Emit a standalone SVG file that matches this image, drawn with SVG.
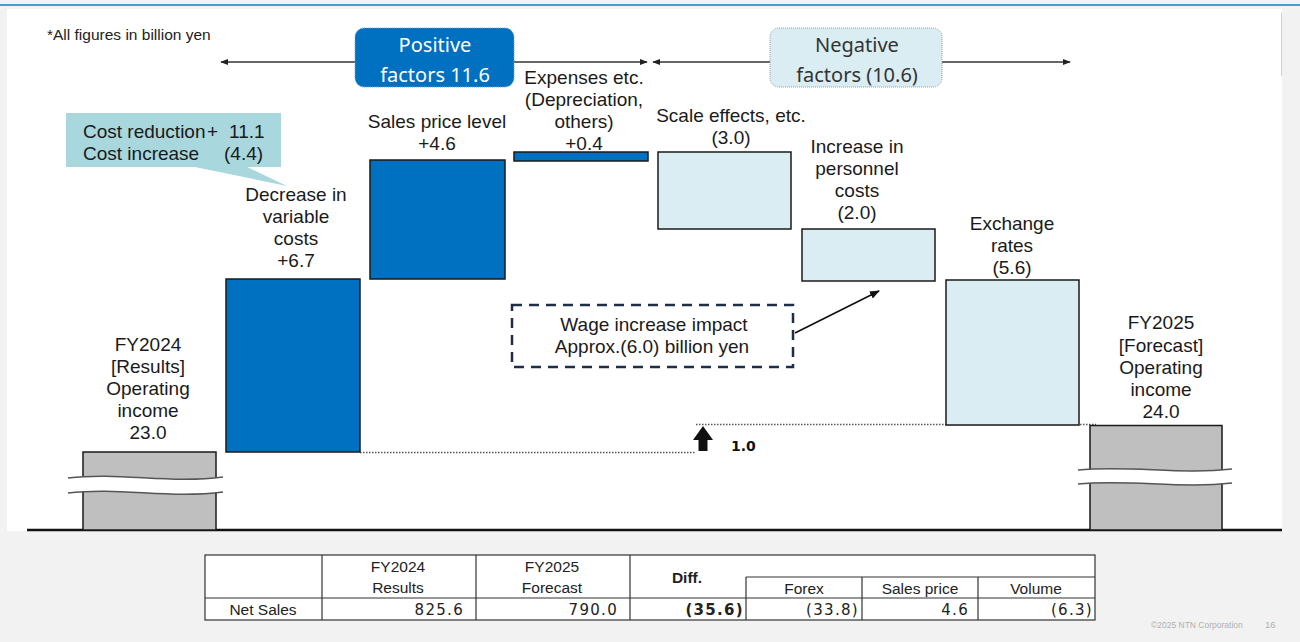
<svg xmlns="http://www.w3.org/2000/svg" width="1300" height="642" viewBox="0 0 1300 642">
<defs>
<style>
.lbl{font-family:"Liberation Sans",Arial,sans-serif;font-size:19px;fill:#1a1a1a;text-anchor:middle}
.box{font-family:"Noto Sans","DejaVu Sans",sans-serif;font-size:20px;text-anchor:middle}
.th{font-family:"Liberation Sans",Arial,sans-serif;font-size:15.5px;fill:#222;text-anchor:middle}
.num{font-family:"DejaVu Sans",sans-serif;font-size:15px;fill:#222;text-anchor:end;letter-spacing:1.3px}
.pos{fill:#0070c0;stroke:#1a1a1a;stroke-width:1.5}
.neg{fill:#daedf3;stroke:#1a1a1a;stroke-width:1.5}
.base{fill:#bfbfbf;stroke:#1a1a1a;stroke-width:1.5}
.dot{stroke:#555;stroke-width:1.3;stroke-dasharray:1.5 1.5;fill:none}
.cell{fill:none;stroke:#333;stroke-width:1.2}
.brk{fill:#ffffff;stroke:none}
.brkl{fill:none;stroke:#555;stroke-width:1.5}
</style>
<marker id="ah" viewBox="0 0 10 10" refX="9" refY="5" markerWidth="8" markerHeight="8" orient="auto-start-reverse" markerUnits="userSpaceOnUse">
<path d="M0,1 L10,5 L0,9 z" fill="#222"/>
</marker>
<marker id="ah2" viewBox="0 0 10 10" refX="9" refY="5" markerWidth="10" markerHeight="10" orient="auto" markerUnits="userSpaceOnUse">
<path d="M0,1 L10,5 L0,9 z" fill="#111"/>
</marker>
</defs>

<rect x="0" y="0" width="1300" height="642" fill="#f2f2f2"/>
<rect x="7" y="9" width="1275" height="522" fill="#ffffff"/>
<line x1="0" y1="5" x2="1300" y2="5" stroke="#3f9fdb" stroke-width="2.2"/>
<line x1="1281.5" y1="13" x2="1281.5" y2="76" stroke="#d0d0d0" stroke-width="1"/>
<line x1="27" y1="530" x2="1282" y2="530" stroke="#111" stroke-width="2.5"/>

<text x="47" y="40" font-family="Liberation Sans,Arial,sans-serif" font-size="15.5px" fill="#222">*All figures in billion yen</text>

<g id="connectors">
<line x1="221" y1="62" x2="647" y2="62" stroke="#333" stroke-width="1.5" marker-start="url(#ah)" marker-end="url(#ah)"/>
<line x1="653" y1="62" x2="1070" y2="62" stroke="#333" stroke-width="1.5" marker-start="url(#ah)" marker-end="url(#ah)"/>
<line class="dot" x1="360" y1="452.5" x2="695" y2="452.5"/>
<line class="dot" x1="696" y1="424.5" x2="1096" y2="424.5"/>
<line x1="795" y1="333" x2="879" y2="291" stroke="#111" stroke-width="1.8" marker-end="url(#ah2)"/>
<polygon points="703,426 713,440 707.5,440 707.5,451 698.5,451 698.5,440 693,440" fill="#111"/>
</g>

<g id="positive-factors">
<rect x="355" y="28" width="159" height="59" rx="9" fill="#0070c0" stroke="#6fa6d6" stroke-width="1" stroke-dasharray="1 1"/>
<text class="box" x="435" y="52" fill="#ffffff">Positive</text>
<text class="box" x="435" y="82" fill="#ffffff">factors 11.6</text>
</g>

<g id="negative-factors">
<rect x="770" y="28" width="172" height="59" rx="9" fill="#daedf3" stroke="#9a9a9a" stroke-width="1" stroke-dasharray="1 1"/>
<text class="box" x="857" y="52" fill="#333">Negative</text>
<text class="box" x="857" y="82" fill="#333">factors (10.6)</text>
</g>

<g id="callout">
<polygon points="190,166 245,166 287,186" fill="#a8d7dd"/>
<rect x="66" y="113" width="215" height="54" fill="#a8d7dd"/>
<text font-family="Liberation Sans,Arial,sans-serif" font-size="19px" fill="#1a1a1a"><tspan x="83" y="138">Cost reduction</tspan><tspan x="207" y="138">+</tspan><tspan x="229" y="138">11.1</tspan></text>
<text font-family="Liberation Sans,Arial,sans-serif" font-size="19px" fill="#1a1a1a"><tspan x="83" y="160">Cost increase</tspan><tspan x="224" y="160">(4.4)</tspan></text>
</g>

<g id="fy2024">
<rect class="base" x="83" y="452" width="133" height="78"/>
<path class="brk" d="M68,478 C120,472 170,484 223,477 L223,492 C170,499 120,487 68,493 Z"/>
<path class="brkl" d="M68,478 C120,472 170,484 223,477"/>
<path class="brkl" d="M68,493 C120,487 170,499 223,492"/>
<text class="lbl" x="148" y="351">FY2024</text>
<text class="lbl" x="148" y="373">[Results]</text>
<text class="lbl" x="148" y="395">Operating</text>
<text class="lbl" x="148" y="417">income</text>
<text class="lbl" x="148" y="439">23.0</text>
</g>

<g id="variable-costs">
<rect class="pos" x="226" y="279" width="134" height="173"/>
<text class="lbl" x="296" y="201">Decrease in</text>
<text class="lbl" x="296" y="223">variable</text>
<text class="lbl" x="296" y="245">costs</text>
<text class="lbl" x="296" y="267">+6.7</text>
</g>

<g id="sales-price">
<rect class="pos" x="370" y="160" width="135" height="119"/>
<text class="lbl" x="437" y="128">Sales price level</text>
<text class="lbl" x="437" y="150">+4.6</text>
</g>

<g id="expenses">
<rect class="pos" x="514" y="152" width="134" height="9"/>
<text class="lbl" x="584" y="84">Expenses etc.</text>
<text class="lbl" x="584" y="106">(Depreciation,</text>
<text class="lbl" x="584" y="128">others)</text>
<text class="lbl" x="584" y="150">+0.4</text>
</g>

<g id="scale-effects">
<rect class="neg" x="658" y="152" width="133" height="77"/>
<text class="lbl" x="731" y="122">Scale effects, etc.</text>
<text class="lbl" x="731" y="144">(3.0)</text>
</g>

<g id="personnel">
<rect class="neg" x="802" y="229" width="133" height="52"/>
<text class="lbl" x="857" y="153">Increase in</text>
<text class="lbl" x="857" y="175">personnel</text>
<text class="lbl" x="857" y="197">costs</text>
<text class="lbl" x="857" y="219">(2.0)</text>
</g>

<g id="exchange">
<rect class="neg" x="946" y="280" width="133" height="145"/>
<text class="lbl" x="1012" y="230">Exchange</text>
<text class="lbl" x="1012" y="252">rates</text>
<text class="lbl" x="1012" y="274">(5.6)</text>
</g>

<g id="fy2025">
<rect class="base" x="1090" y="425.5" width="132" height="104.5"/>
<path class="brk" d="M1078,470 C1130,465 1180,475 1232,469 L1232,483 C1180,489 1130,479 1078,484 Z"/>
<path class="brkl" d="M1078,470 C1130,465 1180,475 1232,469"/>
<path class="brkl" d="M1078,484 C1130,479 1180,489 1232,483"/>
<text class="lbl" x="1161" y="329">FY2025</text>
<text class="lbl" x="1161" y="352">[Forecast]</text>
<text class="lbl" x="1161" y="374">Operating</text>
<text class="lbl" x="1161" y="396">income</text>
<text class="lbl" x="1161" y="418">24.0</text>
</g>

<g id="wage-note">
<rect x="512" y="305" width="281" height="62" fill="none" stroke="#1f2d48" stroke-width="2.5" stroke-dasharray="10 7"/>
<text class="lbl" x="654" y="331" font-size="17px">Wage increase impact</text>
<text class="lbl" x="652" y="353" font-size="17px">Approx.(6.0) billion yen</text>
</g>

<g id="diff-label">
<text x="731" y="451" font-family="DejaVu Sans,sans-serif" font-size="14px" font-weight="bold" fill="#111">1.0</text>
</g>

<g id="table">
<rect x="205" y="555" width="890" height="65" fill="#ffffff"/>
<rect class="cell" x="205" y="555" width="890" height="65"/>
<line class="cell" x1="205" y1="598" x2="1095" y2="598"/>
<line class="cell" x1="746" y1="577" x2="1095" y2="577"/>
<line class="cell" x1="322" y1="555" x2="322" y2="620"/>
<line class="cell" x1="476" y1="555" x2="476" y2="620"/>
<line class="cell" x1="630" y1="555" x2="630" y2="620"/>
<line class="cell" x1="746" y1="577" x2="746" y2="620"/>
<line class="cell" x1="862" y1="577" x2="862" y2="620"/>
<line class="cell" x1="978" y1="577" x2="978" y2="620"/>
<text class="th" x="398" y="572">FY2024</text>
<text class="th" x="398" y="593">Results</text>
<text class="th" x="552" y="572">FY2025</text>
<text class="th" x="552" y="593">Forecast</text>
<text class="th" x="687" y="583" font-weight="bold" font-size="15px">Diff.</text>
<text class="th" x="804" y="594">Forex</text>
<text class="th" x="920" y="594">Sales price</text>
<text class="th" x="1036" y="594">Volume</text>
<text class="th" x="263" y="615">Net Sales</text>
<text class="num" x="464" y="615">825.6</text>
<text class="num" x="618" y="615">790.0</text>
<text class="num" x="744" y="615" font-weight="bold">(35.6)</text>
<text class="num" x="859" y="615">(33.8)</text>
<text class="num" x="969" y="615">4.6</text>
<text class="num" x="1093" y="615">(6.3)</text>
</g>

<text x="1151" y="628" font-family="Liberation Sans,Arial,sans-serif" font-size="8.5px" fill="#b0b0b0">©2025 NTN Corporation</text>
<text x="1265" y="628" font-family="Liberation Sans,Arial,sans-serif" font-size="9.5px" fill="#b0b0b0">16</text>
</svg>
